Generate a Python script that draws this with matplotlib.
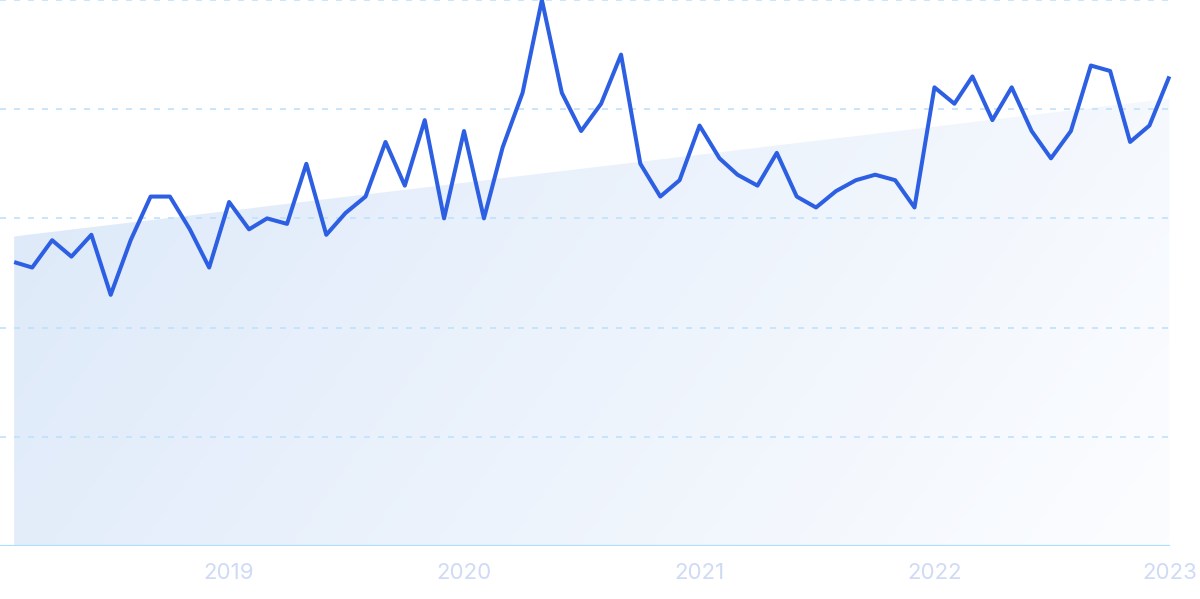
import numpy as np
import pandas as pd
import matplotlib
matplotlib.use("Agg")
import matplotlib.pyplot as plt
import matplotlib.dates as mdates
from matplotlib.colors import LinearSegmentedColormap

# monthly interest values, Feb 2018 .. Jan 2023
months = pd.date_range("2018-02-01", periods=60, freq="MS")
values = [52, 51, 56, 53, 57, 46, 56, 64, 64, 58, 51, 63,
          58, 60, 59, 70, 57, 61, 64, 74, 66, 78, 60, 76,
          60, 73, 83, 100, 83, 76, 81, 90, 70, 64, 67, 77,
          71, 68, 66, 72, 64, 62, 65, 67, 68, 67, 62, 84,
          81, 86, 78, 84, 76, 71, 76, 88, 87, 74, 77, 86]
years = ["2019", "2020", "2021", "2022", "2023"]

plt.rcParams["font.family"] = ["Inter", "DejaVu Sans"]

fig = plt.figure(figsize=(12, 5.99), dpi=100)
ax = fig.add_axes([0, 53 / 599, 1170 / 1200, 546 / 599])

xnum = mdates.date2num(months)
idx = np.arange(len(values))
slope, icpt = np.polyfit(idx, values, 1)
trend = icpt + slope * idx

ax.set_xlim(xnum[0] - 22, xnum[-1] + 1)
ax.set_ylim(0, 100)

# gradient fill under the trend line
poly = ax.fill_between(xnum, 0, trend, color="none", lw=0)
gx, gy = np.meshgrid(np.linspace(0, 1, 300), np.linspace(0, 1, 150))
grad = 0.75 * gx + 0.25 * (1 - gy)
cmap = LinearSegmentedColormap.from_list("fillgrad", ["#dbe8f9", "#fcfdff"])
im = ax.imshow(grad, cmap=cmap, extent=[xnum[0], xnum[-1], 0, 100],
               origin="lower", aspect="auto", zorder=1, interpolation="bilinear")
im.set_clip_path(poly.get_paths()[0], transform=ax.transData)

# dashed grid
for yv in [20, 40, 60, 80, 100]:
    ax.axhline(yv, color="#bfe2fc", lw=1.2, dashes=(3.6, 4.8), zorder=2)
ax.axhline(0, color="#ade0fd", lw=1.6, zorder=2)

ax.plot(xnum, values, color="#2d5fe3", lw=2.9, zorder=3,
        solid_joinstyle="round", solid_capstyle="butt", clip_on=False)

ticks = [mdates.date2num(pd.Timestamp(y + "-01-01")) for y in years]
ax.set_xticks(ticks)
ax.set_xticklabels(years)
ax.tick_params(axis="x", length=0, pad=12, labelsize=16, labelcolor="#cfdaf5")
ax.set_yticks([])
for s in ax.spines.values():
    s.set_visible(False)

fig.savefig("out.png", dpi=100)
